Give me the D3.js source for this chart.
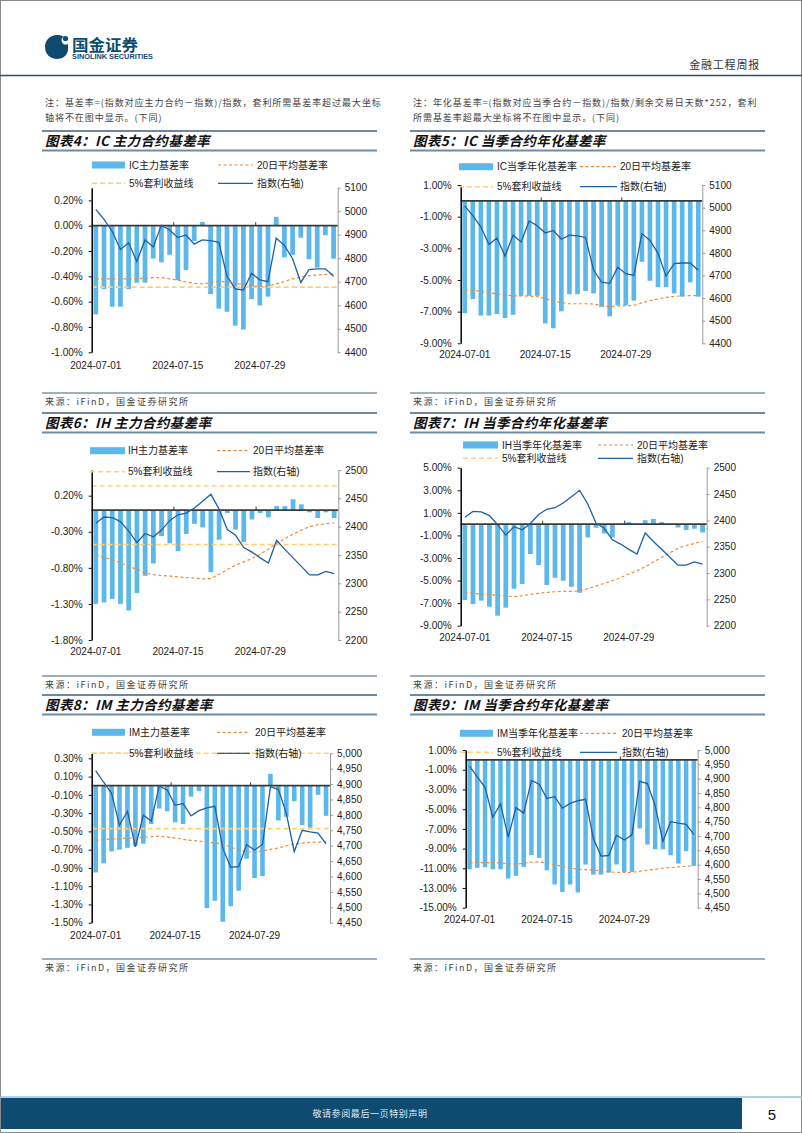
<!DOCTYPE html>
<html><head><meta charset="utf-8">
<script src="https://cdn.jsdelivr.net/npm/d3@7"></script>
<style>
html,body{margin:0;padding:0;background:#fff;}
svg{display:block;}
</style></head>
<body>
<svg id="page" width="802" height="1133"></svg>
<script>
// ---------------- DATA ----------------
const dates = ["2024-07-01","2024-07-02","2024-07-03","2024-07-04","2024-07-05",
  "2024-07-08","2024-07-09","2024-07-10","2024-07-11","2024-07-12",
  "2024-07-15","2024-07-16","2024-07-17","2024-07-18","2024-07-19",
  "2024-07-22","2024-07-23","2024-07-24","2024-07-25","2024-07-26",
  "2024-07-29","2024-07-30","2024-07-31","2024-08-01","2024-08-02",
  "2024-08-05","2024-08-06","2024-08-07","2024-08-08","2024-08-09"];
const xTickLabels = ["2024-07-01","2024-07-15","2024-07-29"];

// index levels (right axis)
const csi500Index = [5008,4965,4915,4837,4866,4786,4878,4848,4941,4920,4888,4899,4860,4878,4875,4868,4724,4670,4665,4736,4708,4700,4885,4855,4798,4697,4752,4755,4755,4723];
const sse50Index  = [2406,2417,2416,2409,2392,2372,2388,2382,2394,2411,2421,2424,2433,2445,2457,2431,2395,2385,2363,2355,2345,2336,2376,2360,2345,2330,2315,2315,2321,2317];
const csi1000Index = [4944,4906,4870,4766,4812,4696,4799,4780,4894,4881,4831,4837,4797,4814,4823,4828,4692,4630,4632,4703,4686,4704,4891,4883,4805,4681,4750,4745,4741,4706];

// basis rate, main contracts (%)
const icMainBasis = [-0.70,-0.50,-0.64,-0.64,-0.50,-0.45,-0.45,-0.26,-0.29,-0.23,-0.43,-0.35,-0.12,0.03,-0.54,-0.655,-0.68,-0.79,-0.82,-0.58,-0.63,-0.56,0.07,-0.25,-0.23,-0.095,-0.265,-0.33,-0.075,-0.26];
const icMainMA20  = [-0.42,-0.42,-0.42,-0.42,-0.42,-0.42,-0.415,-0.41,-0.41,-0.42,-0.43,-0.445,-0.455,-0.46,-0.45,-0.44,-0.445,-0.455,-0.465,-0.475,-0.48,-0.475,-0.46,-0.44,-0.42,-0.405,-0.395,-0.39,-0.385,-0.38];
const icMainArb   = [-0.485];

const ihMainBasis = [-1.30,-1.28,-1.23,-1.30,-1.39,-1.15,-0.91,-0.74,-0.36,-0.46,-0.57,-0.33,-0.19,-0.24,-0.86,-0.41,-0.04,-0.27,-0.44,-0.13,-0.04,-0.10,0.055,0.055,0.15,0.08,-0.03,-0.11,-0.03,-0.11];
const ihMainMA20  = [-0.624,-0.656,-0.69,-0.73,-0.777,-0.823,-0.87,-0.893,-0.906,-0.916,-0.925,-0.934,-0.943,-0.953,-0.948,-0.888,-0.823,-0.763,-0.717,-0.67,-0.61,-0.54,-0.462,-0.393,-0.332,-0.277,-0.23,-0.203,-0.189,-0.175];
const ihMainArb   = [0.334,-0.476];

const imMainBasis = [-0.95,-0.85,-0.72,-0.70,-0.68,-0.66,-0.635,-0.42,-0.25,-0.28,-0.40,-0.42,-0.12,-0.06,-1.34,-1.26,-1.49,-1.32,-1.15,-0.80,-1.01,-0.99,0.13,-0.38,-0.34,-0.17,-0.43,-0.46,-0.10,-0.33];
const imMainMA20  = [-0.60,-0.59,-0.584,-0.58,-0.573,-0.573,-0.566,-0.558,-0.551,-0.562,-0.573,-0.588,-0.599,-0.606,-0.617,-0.628,-0.639,-0.672,-0.704,-0.726,-0.726,-0.715,-0.697,-0.682,-0.657,-0.639,-0.628,-0.62,-0.617,-0.61];
const imMainArb   = [0.355,-0.47];

// annualised basis rate, current-quarter contracts (%)
const icQuarterBasis = [-7.1,-6.2,-7.25,-7.25,-7.15,-7.4,-7.2,-6.0,-6.0,-6.0,-7.75,-8.05,-6.98,-5.9,-5.9,-5.7,-5.85,-6.7,-7.3,-6.6,-6.6,-6.3,-3.85,-5.05,-5.45,-5.45,-5.85,-6.05,-5.15,-6.05];
const icQuarterMA20  = [-5.63,-5.65,-5.72,-5.8,-5.88,-5.95,-6.0,-6.0,-6.02,-6.05,-6.18,-6.33,-6.43,-6.5,-6.5,-6.5,-6.52,-6.6,-6.68,-6.65,-6.62,-6.6,-6.45,-6.3,-6.2,-6.1,-6.04,-6.0,-5.99,-5.98];
const icQuarterArb   = [];

const ihQuarterBasis = [-6.73,-7.08,-6.78,-7.32,-8.11,-7.40,-5.72,-5.31,-2.65,-3.63,-5.40,-4.75,-5.01,-5.55,-6.08,-1.18,-0.32,-0.83,-1.18,-0.03,0.18,-0.03,0.35,0.47,0.18,-0.03,-0.30,-0.53,-0.41,-0.74];
const ihQuarterMA20  = [-6.08,-6.14,-6.19,-6.25,-6.31,-6.37,-6.43,-6.34,-6.22,-6.14,-6.05,-5.99,-5.96,-5.96,-5.93,-5.72,-5.49,-5.25,-5.01,-4.75,-4.42,-4.13,-3.78,-3.36,-2.95,-2.54,-2.15,-1.89,-1.71,-1.53];
const ihQuarterArb   = [];

const imQuarterBasis = [-11.1,-10.96,-10.9,-11.1,-11.1,-12.04,-11.77,-10.86,-9.68,-9.95,-11.2,-12.65,-13.4,-12.65,-13.46,-10.62,-11.64,-11.64,-11.43,-10.62,-11.37,-11.37,-6.97,-8.59,-9.07,-9.07,-9.68,-10.52,-9.27,-10.76];
const imQuarterMA20  = [-10.42,-10.42,-10.42,-10.42,-10.45,-10.52,-10.59,-10.49,-10.39,-10.35,-10.49,-10.66,-10.79,-10.96,-11.1,-11.13,-11.2,-11.27,-11.37,-11.4,-11.43,-11.43,-11.3,-11.2,-11.1,-10.99,-10.93,-10.86,-10.79,-10.76];
const imQuarterArb   = [];

// axis tick values
const icMainTicks = [-1.0,-0.8,-0.6,-0.4,-0.2,0,0.2];
const icQuarterTicks = [-9,-7,-5,-3,-1,1];
const ihMainTicks = [-1.8,-1.3,-0.8,-0.3,0.2];
const ihQuarterTicks = [-9,-7,-5,-3,-1,1,3,5];
const imMainTicks = [-1.5,-1.3,-1.1,-0.9,-0.7,-0.5,-0.3,-0.1,0.1,0.3];
const imQuarterTicks = [-15,-13,-11,-9,-7,-5,-3,-1,1];
const csi500Ticks = [4400,4500,4600,4700,4800,4900,5000,5100];
const sse50Ticks = [2200,2250,2300,2350,2400,2450,2500];
const csi1000Ticks = [4450,4500,4550,4600,4650,4700,4750,4800,4850,4900,4950,5000];

const legendSeries = ["20日平均基差率","5%套利收益线","指数(右轴)"];

// ---------------- STYLE ----------------
const LAT = '"Liberation Sans", Arial, "Noto Sans CJK SC", sans-serif';
const CJK = '"Noto Sans CJK SC", "Noto Sans CJK JP", sans-serif';
const C = {bar:"#5cb8ea", idx:"#1f5fa6", ma:"#ee8a36", arb:"#fdcf7c", navy:"#0e4b71", rule:"#3f5e7c"};

const svg = d3.select("#page");

// page frame
svg.append("rect").attr("x",0.5).attr("y",0.5).attr("width",801).attr("height",1132)
  .attr("fill","none").attr("stroke","#8a8a8a").attr("stroke-width",1);

// ---------- header ----------
const logo = svg.append("g");
logo.append("path")
  .attr("d","M57,35 C50,35 45,40 45,47 C45,54 50,59 57,59 C63,59 68,55 68,49 L68,44 C66,45 63,45 62,42 C61,40 62,37 64,37 C62,35.5 60,35 57,35 Z")
  .attr("fill",C.navy);
logo.append("circle").attr("cx",65.5).attr("cy",38.5).attr("r",2.6).attr("fill",C.navy);
logo.append("text").attr("x",72).attr("y",50.5).text("国金证券")
  .attr("font-family",CJK).attr("font-weight",700).attr("font-size",15.5).attr("fill",C.navy)
  .attr("textLength",66).attr("lengthAdjust","spacingAndGlyphs");
logo.append("text").attr("x",72).attr("y",58.5).text("SINOLINK SECURITIES")
  .attr("font-family",LAT).attr("font-weight",700).attr("font-size",7).attr("fill",C.navy)
  .attr("textLength",81).attr("lengthAdjust","spacingAndGlyphs");

svg.append("text").attr("x",760).attr("y",69).attr("text-anchor","end").text("金融工程周报")
  .attr("font-family",CJK).attr("font-size",11).attr("letter-spacing",0.8).attr("fill","#333");
svg.append("line").attr("x1",0).attr("x2",802).attr("y1",75.5).attr("y2",75.5)
  .attr("stroke","#2f4f6b").attr("stroke-width",1.5);

// notes
const notes = [
  {x:45, lines:["注：基差率=(指数对应主力合约－指数)/指数，套利所需基差率超过最大坐标","轴将不在图中显示。(下同)"]},
  {x:413, lines:["注：年化基差率=(指数对应当季合约－指数)/指数/剩余交易日天数*252，套利","所需基差率超最大坐标将不在图中显示。(下同)"]}
];
notes.forEach(n=>{
  n.lines.forEach((t,i)=>{
    svg.append("text").attr("x",n.x).attr("y",106+i*15).text(t)
      .attr("font-family",CJK).attr("font-size",9).attr("letter-spacing",0.95).attr("fill","#444");
  });
});

// ---------- section frames (titles & sources) ----------
const colX = [[42,377],[410,765]];
const rows = [
  {titleTop:131, srcLine:393},
  {titleTop:413, srcLine:676},
  {titleTop:695, srcLine:959}
];
const titles = [
  ["图表4：IC 主力合约基差率","图表5：IC 当季合约年化基差率"],
  ["图表6：IH 主力合约基差率","图表7：IH 当季合约年化基差率"],
  ["图表8：IM 主力合约基差率","图表9：IM 当季合约年化基差率"]
];
rows.forEach((r,ri)=>{
  colX.forEach((cx,ci)=>{
    svg.append("line").attr("x1",cx[0]).attr("x2",cx[1]).attr("y1",r.titleTop).attr("y2",r.titleTop)
      .attr("stroke",C.rule).attr("stroke-width",1.5);
    svg.append("line").attr("x1",cx[0]).attr("x2",cx[1]).attr("y1",r.titleTop+19.5).attr("y2",r.titleTop+19.5)
      .attr("stroke","#6f8ca6").attr("stroke-width",2);
    svg.append("text").attr("x",cx[0]+3).attr("y",r.titleTop+15).text(titles[ri][ci])
      .attr("font-family",CJK).attr("font-weight",700).attr("font-style","italic")
      .attr("font-size",13.5).attr("letter-spacing",0.4).attr("fill","#111");
    svg.append("line").attr("x1",cx[0]).attr("x2",cx[1]).attr("y1",r.srcLine).attr("y2",r.srcLine)
      .attr("stroke",C.rule).attr("stroke-width",1);
    svg.append("text").attr("x",cx[0]+3).attr("y",r.srcLine+11.5).text("来源：iFinD，国金证券研究所")
      .attr("font-family",CJK).attr("font-size",9).attr("letter-spacing",1.5).attr("fill","#444");
  });
});

// ---------- footer ----------
svg.append("line").attr("x1",0).attr("x2",802).attr("y1",1097).attr("y2",1097)
  .attr("stroke","#8fc3df").attr("stroke-width",1.5);
svg.append("rect").attr("x",1).attr("y",1098).attr("width",741).attr("height",31).attr("fill",C.navy);
svg.append("text").attr("x",370).attr("y",1117).attr("text-anchor","middle").text("敬请参阅最后一页特别声明")
  .attr("font-family",CJK).attr("font-size",9).attr("letter-spacing",0.6).attr("fill","#dfe8ef");
svg.append("text").attr("x",772).attr("y",1120).attr("text-anchor","middle").text("5")
  .attr("font-family",LAT).attr("font-size",15).attr("fill","#111");

// ---------- chart drawer ----------
function drawChart(cfg){
  const g = svg.append("g");
  const x = d3.scaleBand().domain(dates).range([cfg.x0,cfg.x1]).paddingInner(0.42).paddingOuter(0.21);
  const cx = d => x(d) + x.bandwidth()/2;
  const yL = d3.scaleLinear().domain(cfg.leftDomain).range([cfg.y1,cfg.y0]);
  const yR = d3.scaleLinear().domain(cfg.rightDomain).range([cfg.y1,cfg.y0]);

  // bars
  g.selectAll("rect.bar").data(cfg.basis).join("rect").attr("class","bar")
    .attr("x",(d,i)=>x(dates[i])).attr("width",x.bandwidth())
    .attr("y",d=>Math.min(yL(0),yL(d))).attr("height",d=>Math.abs(yL(d)-yL(0)))
    .attr("fill",C.bar);

  // arbitrage lines
  cfg.arb.forEach(v=>{
    g.append("line").attr("x1",cfg.x0).attr("x2",cfg.x1).attr("y1",yL(v)).attr("y2",yL(v))
      .attr("stroke",C.arb).attr("stroke-width",1.6).attr("stroke-dasharray","5,3");
  });

  // zero axis
  g.append("line").attr("x1",cfg.x0).attr("x2",cfg.x1).attr("y1",yL(0)).attr("y2",yL(0))
    .attr("stroke","#3a3a3a").attr("stroke-width",1.8);
  [10,20].forEach(i=>{
    const bx = cfg.x0 + (cfg.x1-cfg.x0)/dates.length*i;
    g.append("line").attr("x1",bx).attr("x2",bx).attr("y1",yL(0)).attr("y2",yL(0)-3.5)
      .attr("stroke","#3a3a3a").attr("stroke-width",1);
  });

  // MA20
  const lineL = d3.line().x((d,i)=>cx(dates[i])).y(d=>yL(d));
  g.append("path").attr("d",lineL(cfg.ma)).attr("fill","none")
    .attr("stroke",C.ma).attr("stroke-width",1.2).attr("stroke-dasharray","3,2.5");

  // index line
  const lineR = d3.line().x((d,i)=>cx(dates[i])).y(d=>yR(d));
  g.append("path").attr("d",lineR(cfg.index)).attr("fill","none")
    .attr("stroke",C.idx).attr("stroke-width",1.3);

  // left axis
  const aL = g.append("g").attr("transform",`translate(${cfg.x0},0)`)
    .call(d3.axisLeft(yL).tickValues(cfg.leftTicks).tickFormat(d=>d.toFixed(2)+"%").tickSizeInner(3).tickSizeOuter(0).tickPadding(6));
  aL.select(".domain").attr("stroke","#111").attr("stroke-width",1.6);
  aL.selectAll(".tick line").attr("stroke","#111");
  aL.selectAll("text").attr("font-family",LAT).attr("font-size",10).attr("fill","#222");

  // right axis
  const aR = g.append("g").attr("transform",`translate(${cfg.x1},0)`)
    .call(d3.axisRight(yR).tickValues(cfg.rightTicks).tickFormat(cfg.rightFormat).tickSizeInner(3).tickSizeOuter(0).tickPadding(4));
  aR.select(".domain").attr("stroke","#9a9a9a").attr("stroke-width",1);
  aR.selectAll(".tick line").attr("stroke","#9a9a9a");
  aR.selectAll("text").attr("font-family",LAT).attr("font-size",10).attr("fill","#222");

  // x labels
  xTickLabels.forEach(lbl=>{
    g.append("text").attr("x",cx(lbl)).attr("y",cfg.xLabelY+3.5).attr("text-anchor","middle").text(lbl)
      .attr("font-family",LAT).attr("font-size",10).attr("fill","#222");
  });

  // legend
  const L = cfg.legend;
  const names = [cfg.barName].concat(legendSeries);
  const cells = [
    {row:0,col:0,kind:"bar"},{row:0,col:1,kind:"ma"},
    {row:1,col:0,kind:"arb"},{row:1,col:1,kind:"idx"}
  ];
  cells.forEach((c,k)=>{
    const y = L.rows[c.row];
    const sx = L.cols[c.col];
    if(c.kind==="bar"){
      g.append("rect").attr("x",sx[0]).attr("y",y-3.5).attr("width",sx[1]-sx[0]).attr("height",7).attr("fill",C.bar);
    } else if(c.kind==="ma"){
      g.append("line").attr("x1",sx[0]).attr("x2",sx[1]).attr("y1",y).attr("y2",y)
        .attr("stroke",C.ma).attr("stroke-width",1.2).attr("stroke-dasharray","3,2.5");
    } else if(c.kind==="arb"){
      g.append("line").attr("x1",sx[0]).attr("x2",sx[1]).attr("y1",y).attr("y2",y)
        .attr("stroke",C.arb).attr("stroke-width",1.6).attr("stroke-dasharray","5,3");
    } else {
      g.append("line").attr("x1",sx[0]).attr("x2",sx[1]).attr("y1",y).attr("y2",y)
        .attr("stroke",C.idx).attr("stroke-width",1.3);
    }
    g.append("text").attr("x",sx[2]).attr("y",y+3.6).text(names[k])
      .attr("font-family",LAT).attr("font-size",10).attr("fill","#222");
  });
}

const fmtPlain = d3.format("d");
const fmtComma = d3.format(",");

drawChart({basis:icMainBasis, ma:icMainMA20, arb:icMainArb, index:csi500Index, barName:"IC主力基差率",
  x0:91.7,x1:337.7,y0:187.7,y1:352.3, leftDomain:[-1.0,0.3], rightDomain:[4400,5100],
  leftTicks:icMainTicks, rightTicks:csi500Ticks, rightFormat:fmtPlain, xLabelY:365,
  legend:{rows:[165,183.3], cols:[[92,125,129],[218,253,257]]}});

drawChart({basis:icQuarterBasis, ma:icQuarterMA20, arb:icQuarterArb, index:csi500Index, barName:"IC当季年化基差率",
  x0:460.7,x1:702.3,y0:185,y1:343.3, leftDomain:[-9,1], rightDomain:[4400,5100],
  leftTicks:icQuarterTicks, rightTicks:csi500Ticks, rightFormat:fmtPlain, xLabelY:354,
  legend:{rows:[166.7,186.7], cols:[[459,493,497],[580,617,620]]}});

drawChart({basis:ihMainBasis, ma:ihMainMA20, arb:ihMainArb, index:sse50Index, barName:"IH主力基差率",
  x0:91.7,x1:338.3,y0:470,y1:640, leftDomain:[-1.8,0.556], rightDomain:[2200,2500],
  leftTicks:ihMainTicks, rightTicks:sse50Ticks, rightFormat:fmtPlain, xLabelY:651.7,
  legend:{rows:[450.7,471.7], cols:[[90,125,128],[217,250,253]]}});

drawChart({basis:ihQuarterBasis, ma:ihQuarterMA20, arb:ihQuarterArb, index:sse50Index, barName:"IH当季年化基差率",
  x0:460.7,x1:706.7,y0:467.7,y1:625.7, leftDomain:[-9,5], rightDomain:[2200,2500],
  leftTicks:ihQuarterTicks, rightTicks:sse50Ticks, rightFormat:fmtPlain, xLabelY:637,
  legend:{rows:[445,458.3], cols:[[463,498,502],[598,633,637]]}});

drawChart({basis:imMainBasis, ma:imMainMA20, arb:imMainArb, index:csi1000Index, barName:"IM主力基差率",
  x0:91.7,x1:330,y0:753.3,y1:922.7, leftDomain:[-1.5,0.355], rightDomain:[4450,5000],
  leftTicks:imMainTicks, rightTicks:csi1000Ticks, rightFormat:fmtComma, xLabelY:935,
  legend:{rows:[732.3,753.3], cols:[[92,125,129],[217,250,255]]}});

drawChart({basis:imQuarterBasis, ma:imQuarterMA20, arb:imQuarterArb, index:csi1000Index, barName:"IM当季年化基差率",
  x0:465.7,x1:697.7,y0:750,y1:907.7, leftDomain:[-15,1], rightDomain:[4450,5000],
  leftTicks:imQuarterTicks, rightTicks:csi1000Ticks, rightFormat:fmtComma, xLabelY:919,
  legend:{rows:[733.3,752.3], cols:[[460,493,497],[580,617,622]]}});
</script>
</body></html>
